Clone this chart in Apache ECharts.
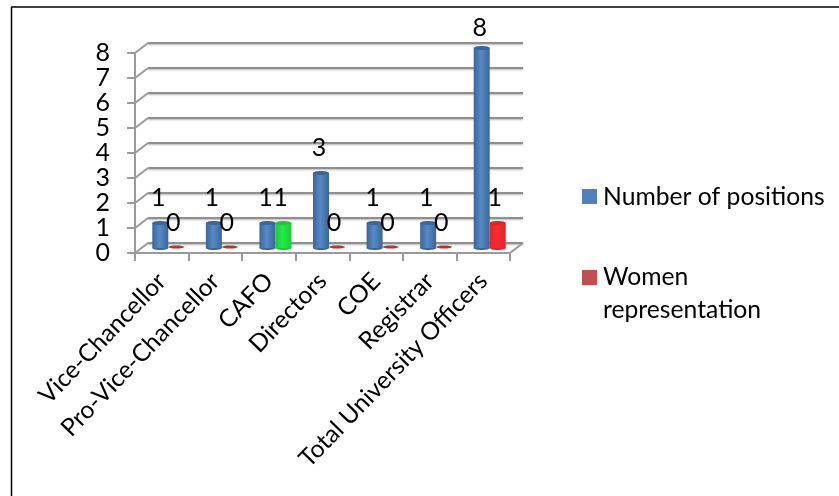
<!DOCTYPE html>
<html>
<head>
<meta charset="utf-8">
<script src="https://cdn.jsdelivr.net/npm/echarts@6/dist/echarts.min.js"></script>
<style>
html, body { margin: 0; padding: 0; background: #fff; }
#container { width: 839px; height: 496px; }
</style>
</head>
<body>
<div id="container"></div>
<script>
const categories = ['Vice-Chancellor', 'Pro-Vice-Chancellor', 'CAFO', 'Directors', 'COE', 'Registrar', 'Total University Officers'];
const positions = [1, 1, 1, 3, 1, 1, 8];
const women = [0, 0, 1, 0, 0, 0, 1];
const womenColors = ['#a83a38', '#a83a38', '#22ee44', '#a83a38', '#a83a38', '#a83a38', '#fb2a2e'];
const womenEdges = ['#a83a38', '#a83a38', '#1cc83a', '#a83a38', '#a83a38', '#a83a38', '#e0262a'];
const yTicks = [0, 1, 2, 3, 4, 5, 6, 7, 8];
const seriesNames = ['Number of positions', 'Women representation'];

const font = 'Lato';
const depthX = 13, depthY = 10;

// gradient across a cylinder, dark edges and lighter middle
function tube(color, dark) {
    return new echarts.graphic.LinearGradient(0, 0, 1, 0, [
        { offset: 0, color: dark },
        { offset: 0.45, color: color },
        { offset: 1, color: dark }
    ]);
}

function cylinder(colors, edges, side) {
    return function (params, api) {
        const idx = api.value(0);
        const val = api.value(1);
        const base = api.coord([idx, 0]);
        const top = api.coord([idx, val]);
        const w = 16;
        const x = base[0] + side * w / 2 - w / 2;
        if (val === 0) {
            return {
                type: 'ellipse',
                shape: { cx: x + w / 2, cy: base[1] - 1, rx: w / 2, ry: 1.5 },
                style: { fill: colors[idx] }
            };
        }
        return {
            type: 'group',
            children: [
                { type: 'ellipse', shape: { cx: x + w / 2, cy: base[1], rx: w / 2, ry: 2 }, style: { fill: edges[idx] } },
                { type: 'rect', shape: { x: x, y: top[1], width: w, height: base[1] - top[1] }, style: { fill: tube(colors[idx], edges[idx]) } },
                { type: 'ellipse', shape: { cx: x + w / 2, cy: top[1], rx: w / 2, ry: 2 }, style: { fill: edges[idx] } }
            ]
        };
    };
}

// value label above each bar
function valueLabels(values, dx) {
    return {
        type: 'custom',
        xAxisIndex: 2,
        yAxisIndex: 2,
        silent: true,
        z: 10,
        data: values.map(function (v, i) { return [i, v]; }),
        renderItem: function (params, api) {
            const p = api.coord([api.value(0), api.value(1)]);
            const gap = api.value(1) === 8 ? 20 : 25;
            return {
                type: 'text',
                style: {
                    text: String(api.value(1)),
                    x: p[0] + dx,
                    y: p[1] - gap,
                    fill: '#000',
                    font: '25px ' + font,
                    textAlign: 'center',
                    textVerticalAlign: 'middle'
                }
            };
        }
    };
}

const myChart = echarts.init(document.getElementById('container'), null, { renderer: 'canvas' });

const option = {
    animation: false,
    backgroundColor: '#fff',
    textStyle: { fontFamily: font },
    grid: [
        // front of the box, carries the ticks and labels
        { left: 135, top: 53, width: 375, height: 200 },
        // back wall
        { left: 135 + depthX, top: 53 - depthY, width: 375, height: 200 },
        // middle depth, bars stand here
        { left: 135 + depthX / 2, top: 53 - depthY / 2, width: 375, height: 200 }
    ],
    xAxis: [
        {
            gridIndex: 0,
            type: 'category',
            data: categories,
            axisLine: { show: true, lineStyle: { color: '#9a9a9a', width: 2 } },
            axisTick: { show: true, length: 8, alignWithLabel: false, lineStyle: { color: '#9a9a9a', width: 2 } },
            axisLabel: { rotate: 46, interval: 0, margin: 24, color: '#000', fontSize: 24.5, fontFamily: font }
        },
        {
            gridIndex: 1,
            type: 'category',
            data: categories,
            axisLine: { show: false },
            axisTick: { show: false },
            axisLabel: { show: false }
        },
        {
            gridIndex: 2,
            type: 'category',
            data: categories,
            axisLine: { show: false },
            axisTick: { show: false },
            axisLabel: { show: false }
        }
    ],
    yAxis: [
        {
            gridIndex: 0,
            type: 'value',
            min: 0,
            max: 8,
            interval: 1,
            splitLine: { show: false },
            axisLine: { show: true, lineStyle: { color: '#9a9a9a', width: 2 } },
            axisTick: { show: true, length: 8, lineStyle: { color: '#9a9a9a', width: 2 } },
            axisLabel: { margin: 25, color: '#000', fontSize: 25, fontFamily: font }
        },
        {
            gridIndex: 1,
            type: 'value',
            min: 0,
            max: 8,
            interval: 1,
            axisLine: { show: false },
            axisTick: { show: false },
            axisLabel: { show: false },
            splitLine: { show: true, lineStyle: { color: '#8f8f8f', width: 2, shadowColor: 'rgba(0,0,0,0.3)', shadowBlur: 2, shadowOffsetY: 1 } }
        },
        {
            gridIndex: 2,
            type: 'value',
            min: 0,
            max: 8,
            interval: 1,
            axisLine: { show: false },
            axisTick: { show: false },
            axisLabel: { show: false },
            splitLine: { show: false }
        }
    ],
    series: [
        {
            // diagonal lines joining the front ticks to the back wall
            type: 'custom',
            name: 'side wall',
            xAxisIndex: 0,
            yAxisIndex: 0,
            silent: true,
            data: yTicks.map(function (v) { return [0, v]; }),
            renderItem: function (params, api) {
                const p = api.coord([0, api.value(1)]);
                const left = p[0] - api.size([1, 0])[0] / 2;
                return {
                    type: 'line',
                    shape: { x1: left, y1: p[1], x2: left + depthX, y2: p[1] - depthY },
                    style: { stroke: '#9a9a9a', lineWidth: 2 }
                };
            }
        },
        {
            // right edge of the floor
            type: 'custom',
            name: 'floor edge',
            xAxisIndex: 0,
            yAxisIndex: 0,
            silent: true,
            data: [[categories.length - 1, 0]],
            renderItem: function (params, api) {
                const p = api.coord([api.value(0), 0]);
                const right = p[0] + api.size([1, 0])[0] / 2;
                return {
                    type: 'line',
                    shape: { x1: right, y1: p[1], x2: right + depthX, y2: p[1] - depthY },
                    style: { stroke: '#9a9a9a', lineWidth: 2 }
                };
            }
        },
        {
            type: 'custom',
            name: seriesNames[0],
            xAxisIndex: 2,
            yAxisIndex: 2,
            z: 5,
            data: positions.map(function (v, i) { return [i, v]; }),
            renderItem: cylinder(positions.map(function () { return '#568ac6'; }), positions.map(function () { return '#3a6699'; }), -1)
        },
        {
            type: 'custom',
            name: seriesNames[1],
            xAxisIndex: 2,
            yAxisIndex: 2,
            z: 5,
            data: women.map(function (v, i) { return [i, v]; }),
            renderItem: cylinder(womenColors, womenEdges, 1)
        },
        valueLabels(positions, -10),
        valueLabels(women, 5)
    ],
    graphic: [
        // top and left page rules
        { type: 'line', shape: { x1: 11, y1: 7, x2: 839, y2: 7 }, style: { stroke: '#000', lineWidth: 1.5 }, silent: true },
        { type: 'line', shape: { x1: 11.5, y1: 7, x2: 11.5, y2: 496 }, style: { stroke: '#000', lineWidth: 1.5 }, silent: true },
        // legend
        { type: 'rect', shape: { x: 582, y: 189, width: 15, height: 15 }, style: { fill: '#4f81bd' } },
        { type: 'text', style: { text: seriesNames[0], x: 603, y: 197, fill: '#000', font: '24.7px ' + font, textVerticalAlign: 'middle' } },
        { type: 'rect', shape: { x: 582, y: 270, width: 15, height: 15 }, style: { fill: '#c0504d' } },
        { type: 'text', style: { text: 'Women', x: 603, y: 277, fill: '#000', font: '24.7px ' + font, textVerticalAlign: 'middle' } },
        { type: 'text', style: { text: 'representation', x: 603, y: 310, fill: '#000', font: '24.7px ' + font, textVerticalAlign: 'middle' } }
    ]
};

myChart.setOption(option);
</script>
</body>
</html>
